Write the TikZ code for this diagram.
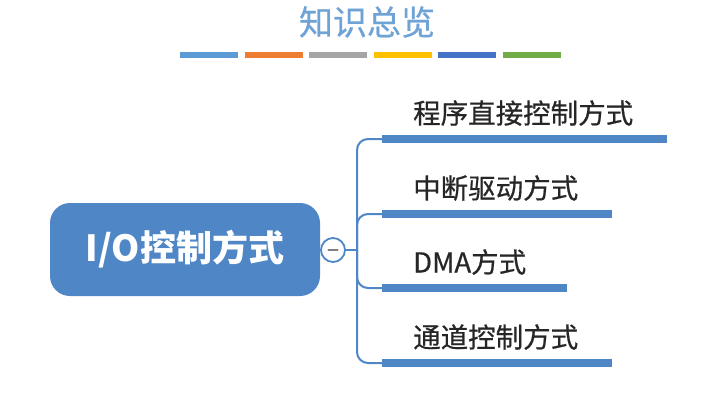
\documentclass[tikz,border=0pt]{standalone}
\usepackage{fontspec}
\setmainfont{Noto Sans CJK SC}
\newfontfamily\medfont[FakeBold=0.6]{Noto Sans CJK SC}
\usetikzlibrary{positioning}

\definecolor{mapblue}{HTML}{4F86C6}
\definecolor{titleblue}{HTML}{6FA3D6}

\begin{document}
\begin{tikzpicture}[x=1pt, y=-1pt, line join=round,
    topic/.style={fill=mapblue, rounded corners=20pt, minimum width=270pt, minimum height=93pt,
      text=white, font=\fontsize{36}{36}\selectfont\bfseries},
    sub/.style={anchor=west, inner sep=0pt, text=black!85, font=\medfont\fontsize{27.5}{27.5}\selectfont},
    branch/.style={draw=mapblue, line width=2pt, rounded corners=11pt},
    under/.style={draw=mapblue, line width=8pt}]
  \useasboundingbox (0,0) rectangle (715,405);

  \node[text=titleblue, font=\medfont\fontsize{34}{34}\selectfont] (title) at (367,22) {知识总览};
  % colour strip under the title
  \foreach \c [count=\i from 0] in {5B9BD5, ED7D31, A5A5A5, FFC000, 4472C4, 70AD47} {
    \definecolor{strip}{HTML}{\c}
    \draw[strip, line width=6pt] (180+\i*64.6,55) -- (238+\i*64.6,55);
  }

  \node[topic] (root) at (185,249.5) {I/O控制方式};
  \node[circle, draw=mapblue, line width=1.8pt, fill=white, minimum size=24pt, inner sep=0pt] (fold) at (333,250) {};
  \draw[gray, line width=2.5pt, line cap=round] ([xshift=-4.5pt]fold.center) -- ([xshift=4.5pt]fold.center);
  \coordinate (trunk) at (357,250);
  \draw[branch] (root.east) -- (fold.west);
  \draw[branch] (fold.east) -- (trunk);

  \foreach \y/\xend/\txt [count=\i] in {139/667/程序直接控制方式, 214/612/中断驱动方式,
      288/567/DMA方式, 363/612/通道控制方式} {
    \coordinate (s\i) at (382,\y);
    \coordinate (e\i) at (\xend,\y);
    \node[sub] (b\i) at (413,\y-26) {\txt};
    \draw[branch] (trunk) |- (s\i);
    \draw[under] (s\i) -- (e\i);
  }
\end{tikzpicture}
\end{document}
